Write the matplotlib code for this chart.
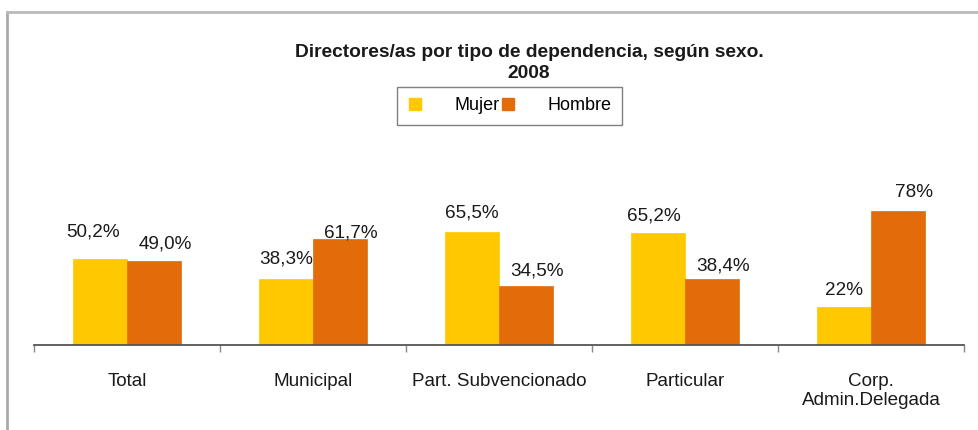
import matplotlib
matplotlib.use("Agg")
import matplotlib.pyplot as plt
from matplotlib.lines import Line2D
import numpy as np

plt.rcParams['font.family'] = ['Liberation Sans', 'DejaVu Sans']

categories = ["Total", "Municipal", "Part. Subvencionado", "Particular", "Corp.\nAdmin.Delegada"]
mujer = [50.2, 38.3, 65.5, 65.2, 22.0]
hombre = [49.0, 61.7, 34.5, 38.4, 78.0]
mujer_labels = ["50,2%", "38,3%", "65,5%", "65,2%", "22%"]
hombre_labels = ["49,0%", "61,7%", "34,5%", "38,4%", "78%"]
series_names = ["Mujer", "Hombre"]
title = "Directores/as por tipo de dependencia, según sexo.\n2008"

# label offsets in pixels (dx, dy above bar top) -- layout only
mujer_off = [(-7, 27), (0, 20), (0, 19), (-4, 17), (0, 17)]
hombre_off = [(11, 17), (11, 6), (11, 15), (11, 13), (16, 18)]

c_y = "#FFC800"
c_o = "#E36C0A"
txt = "#1a1a1a"
fs = 13.6

W, H = 979, 430
fig = plt.figure(figsize=(W / 100, H / 100), dpi=100)

ax_left, ax_right, ax_bottom, ax_top = 34, 964, 345, 140
ax = fig.add_axes([ax_left / W, (H - ax_bottom) / H, (ax_right - ax_left) / W, (ax_bottom - ax_top) / H])

x = np.arange(len(categories))
bw = 54 / 186
ax.bar(x - bw / 2, mujer, bw, color=c_y, edgecolor=c_y, linewidth=0.5)
ax.bar(x + bw / 2, hombre, bw, color=c_o, edgecolor=c_o, linewidth=0.5)
ax.set_xlim(-0.5, len(categories) - 0.5)
ax.set_ylim(0, (ax_bottom - ax_top) / 1.72)

for i in range(len(categories)):
    for val, lab, off, sgn in ((mujer[i], mujer_labels[i], mujer_off[i], -1), (hombre[i], hombre_labels[i], hombre_off[i], 1)):
        ax.annotate(lab, xy=(x[i] + sgn * bw / 2, val), xytext=(off[0] * 0.72, off[1] * 0.72),
                    textcoords='offset points', ha='center', va='center', fontsize=fs, color=txt)

for s in ['left', 'right', 'top']:
    ax.spines[s].set_visible(False)
ax.spines['bottom'].set_color('#555555')
ax.spines['bottom'].set_linewidth(1.3)
ax.set_yticks([])
ax.set_xticks(np.arange(len(categories) + 1) - 0.5, minor=False)
ax.set_xticklabels([])
ax.tick_params(axis='x', which='major', length=5, color='#888888', width=1)
ax.set_xticks(x, minor=True)
ax.set_xticklabels(categories, minor=True, fontsize=fs, color=txt, linespacing=1.17, va='top')
ax.tick_params(axis='x', which='minor', length=0, pad=20)

fig.text(529 / W, 1 - 63 / H, title, ha='center', va='center', fontsize=13.8, fontweight='bold',
         color=txt, linespacing=1.3)

handles = [Line2D([], [], marker='s', linestyle='none', markersize=8, color=c_y),
           Line2D([], [], marker='s', linestyle='none', markersize=8, color=c_o)]
leg = fig.legend(handles, series_names, loc='center', bbox_to_anchor=(509.5 / W, 1 - 106 / H), ncol=2,
                 frameon=True, fancybox=False, fontsize=13, handlelength=0.8, handletextpad=1.75,
                 columnspacing=0.1, borderpad=0.6, edgecolor='#808080', framealpha=1)
leg.get_frame().set_linewidth(1.0)

# outer frame
fig.add_artist(Line2D([7 / W, 7 / W], [0, 1 - 12 / H], color='#aaaaaa', linewidth=2, transform=fig.transFigure))
fig.add_artist(Line2D([7 / W, 1], [1 - 12 / H, 1 - 12 / H], color='#bbbbbb', linewidth=2, transform=fig.transFigure))

fig.savefig("out.png", dpi=100)
